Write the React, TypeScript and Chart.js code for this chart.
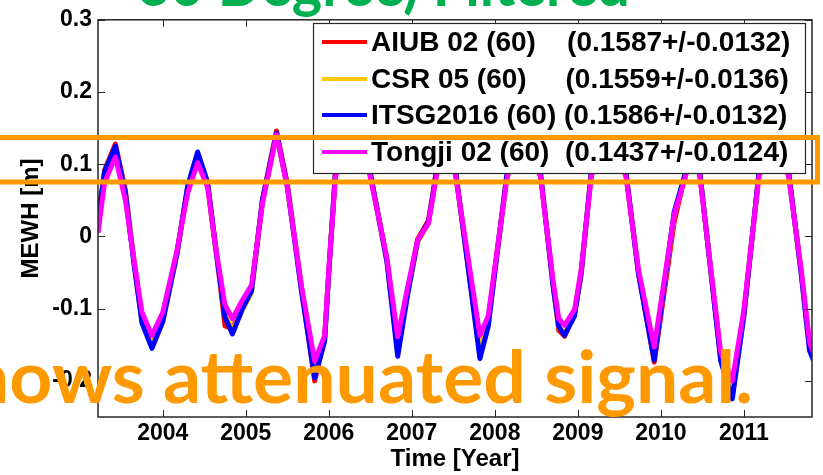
import React, { useEffect, useRef } from 'react';
import { Chart, registerables } from 'chart.js';

Chart.register(...registerables);

// Time (decimal years)
const timeYears = [
  2003.22, 2003.30, 2003.43, 2003.55, 2003.65, 2003.75, 2003.87, 2004.00, 2004.17, 2004.30,
  2004.42, 2004.54, 2004.63, 2004.75, 2004.84, 2004.96, 2005.07, 2005.20, 2005.37, 2005.50,
  2005.67, 2005.83, 2005.95, 2006.00, 2006.08, 2006.30, 2006.50, 2006.70, 2006.83, 2006.95,
  2007.07, 2007.20, 2007.26, 2007.32, 2007.42, 2007.53, 2007.82, 2007.92, 2008.14, 2008.30,
  2008.55, 2008.70, 2008.77, 2008.84, 2008.96, 2009.04, 2009.16, 2009.37, 2009.58, 2009.73,
  2009.92, 2010.16, 2010.28, 2010.40, 2010.47, 2010.72, 2010.86, 2011.00, 2011.18, 2011.36,
  2011.54, 2011.69, 2011.79, 2011.84,
];

// MEWH [m]
const aiub02 = [
  0.022, 0.092, 0.128, 0.064, -0.030, -0.116, -0.148, -0.115, -0.022, 0.068,
  0.113, 0.073, -0.006, -0.124, -0.128, -0.096, -0.072, 0.050, 0.146, 0.073,
  -0.070, -0.200, -0.140, -0.048, 0.088, 0.188, 0.086, -0.032, -0.160, -0.076,
  -0.004, 0.022, 0.064, 0.110, 0.168, 0.086, -0.162, -0.118, 0.080, 0.172,
  0.086, -0.064, -0.130, -0.138, -0.106, -0.052, 0.086, 0.178, 0.086, -0.050,
  -0.174, 0.020, 0.080, 0.142, 0.086, -0.168, -0.220, -0.106, 0.086, 0.172,
  0.086, -0.050, -0.152, -0.168,
];
const csr05 = [
  0.015, 0.085, 0.122, 0.058, -0.032, -0.118, -0.150, -0.120, -0.026, 0.066,
  0.110, 0.070, -0.012, -0.108, -0.130, -0.102, -0.078, 0.046, 0.140, 0.068,
  -0.072, -0.190, -0.142, -0.050, 0.086, 0.182, 0.085, -0.034, -0.160, -0.078,
  -0.008, 0.018, 0.060, 0.106, 0.165, 0.085, -0.160, -0.122, 0.078, 0.168,
  0.085, -0.066, -0.126, -0.134, -0.108, -0.048, 0.085, 0.172, 0.085, -0.050,
  -0.166, 0.030, 0.078, 0.138, 0.085, -0.166, -0.212, -0.108, 0.085, 0.168,
  0.085, -0.050, -0.154, -0.170,
];
const itsg2016 = [
  0.020, 0.090, 0.125, 0.060, -0.035, -0.120, -0.155, -0.118, -0.025, 0.070,
  0.117, 0.075, -0.010, -0.112, -0.135, -0.100, -0.075, 0.050, 0.143, 0.070,
  -0.075, -0.196, -0.145, -0.050, 0.090, 0.190, 0.088, -0.035, -0.166, -0.080,
  -0.006, 0.020, 0.062, 0.110, 0.170, 0.088, -0.169, -0.125, 0.082, 0.175,
  0.088, -0.068, -0.125, -0.137, -0.110, -0.050, 0.088, 0.180, 0.088, -0.052,
  -0.171, 0.034, 0.082, 0.145, 0.088, -0.172, -0.225, -0.110, 0.088, 0.175,
  0.088, -0.052, -0.158, -0.172,
];
const tongji02 = [
  0.005, 0.075, 0.110, 0.050, -0.030, -0.105, -0.137, -0.105, -0.020, 0.060,
  0.102, 0.068, -0.010, -0.095, -0.114, -0.088, -0.067, 0.045, 0.141, 0.068,
  -0.068, -0.173, -0.137, -0.046, 0.082, 0.170, 0.082, -0.030, -0.139, -0.070,
  -0.005, 0.018, 0.059, 0.100, 0.155, 0.082, -0.137, -0.110, 0.076, 0.160,
  0.082, -0.060, -0.114, -0.123, -0.101, -0.046, 0.082, 0.165, 0.082, -0.046,
  -0.153, 0.031, 0.076, 0.130, 0.082, -0.160, -0.200, -0.101, 0.082, 0.160,
  0.082, -0.046, -0.146, -0.162,
];

const seriesLabels = [
  'AIUB 02 (60)    (0.1587+/-0.0132)',
  'CSR 05 (60)     (0.1559+/-0.0136)',
  'ITSG2016 (60) (0.1586+/-0.0132)',
  'Tongji 02 (60)  (0.1437+/-0.0124)',
];
const seriesColors = ['#FF0000', '#FFC800', '#0000FF', '#FF00FF'];
const seriesValues = [aiub02, csr05, itsg2016, tongji02];

const xTickYears = [2004, 2005, 2006, 2007, 2008, 2009, 2010, 2011];
const yTickValues = [-0.2, -0.1, 0, 0.1, 0.2, 0.3];
const yTickLabels = ['-0.2', '-0.1', '0', '0.1', '0.2', '0.3'];
const xRange = [2003.22, 2011.82];
const yRange = [-0.25, 0.3];
const xTitle = 'Time [Year]';
const yTitle = 'MEWH [m]';
const slideTitle = '60 Degree) Filtered';
const slideCaption = 'shows attenuated signal.';
const slideCaptionFitPart = 'attenuated signal.';

const AXIS_FONT = '"Liberation Sans", Arial, sans-serif';

const decorPlugin = {
  id: 'decor',
  afterDatasetsDraw(chart: any) {
    const { ctx, chartArea: a, scales } = chart;
    const xs = scales.x;
    const ys = scales.y;
    ctx.save();
    // frame
    ctx.strokeStyle = '#262626';
    ctx.lineWidth = 1.5;
    ctx.strokeRect(a.left, a.top, a.right - a.left, a.bottom - a.top);
    // inward ticks
    const tl = 7;
    ctx.beginPath();
    xTickYears.forEach((v) => {
      const px = Math.round(xs.getPixelForValue(v)) + 0.5;
      ctx.moveTo(px, a.bottom);
      ctx.lineTo(px, a.bottom - tl);
      ctx.moveTo(px, a.top);
      ctx.lineTo(px, a.top + tl);
    });
    yTickValues.forEach((v) => {
      const py = Math.round(ys.getPixelForValue(v)) + 0.5;
      ctx.moveTo(a.left, py);
      ctx.lineTo(a.left + tl, py);
      ctx.moveTo(a.right, py);
      ctx.lineTo(a.right - tl, py);
    });
    ctx.lineWidth = 1;
    ctx.stroke();

    // legend box
    const lb = { left: 313, top: 23, right: 805, bottom: 173 };
    ctx.fillStyle = '#FFFFFF';
    ctx.fillRect(lb.left, lb.top, lb.right - lb.left, lb.bottom - lb.top);
    ctx.strokeStyle = '#262626';
    ctx.lineWidth = 1.2;
    ctx.strokeRect(lb.left + 0.5, lb.top + 0.5, lb.right - lb.left, lb.bottom - lb.top);
    const rowY = [42, 79, 115, 152];
    ctx.font = `bold 28px ${AXIS_FONT}`;
    ctx.textBaseline = 'middle';
    ctx.textAlign = 'left';
    chart.data.datasets.forEach((ds: any, i: number) => {
      const yy = rowY[i];
      ctx.strokeStyle = ds.borderColor;
      ctx.lineWidth = 4;
      ctx.beginPath();
      ctx.moveTo(322, yy);
      ctx.lineTo(367, yy);
      ctx.stroke();
      ctx.fillStyle = '#000000';
      ctx.fillText(ds.label, 371, yy + 1);
    });

    // slide overlays: orange caption
    ctx.fillStyle = '#FF9900';
    ctx.font = 'bold 72px Lato, "Open Sans", sans-serif';
    ctx.textBaseline = 'alphabetic';
    const wFull = ctx.measureText(slideCaption).width;
    const wPart = ctx.measureText(slideCaptionFitPart).width;
    const sx = 590 / wPart;
    ctx.save();
    ctx.translate(753 - wFull * sx, 403);
    ctx.scale(sx, 1);
    ctx.fillText(slideCaption, 0, 0);
    ctx.restore();

    // orange highlight rectangle
    ctx.strokeStyle = '#FF9900';
    ctx.lineWidth = 5;
    ctx.strokeRect(-10, 137.5, 827.5, 44.5);

    // green title (mostly above the page)
    ctx.fillStyle = '#00B050';
    ctx.font = 'bold 62px Lato, "Open Sans", sans-serif';
    const wt = ctx.measureText(slideTitle).width;
    const st = 493 / wt;
    ctx.save();
    ctx.translate(137, 6);
    ctx.scale(st, 1);
    ctx.fillText(slideTitle, 0, 0);
    ctx.restore();

    ctx.restore();
  },
};

export default function App() {
  const ref = useRef<HTMLCanvasElement | null>(null);
  useEffect(() => {
    document.body.style.margin = '0';
    document.body.style.overflow = 'hidden';
    const canvas = ref.current;
    if (!canvas) return;
    const datasets = seriesValues.map((vals, i) => ({
      label: seriesLabels[i],
      data: timeYears.map((t, k) => ({ x: t, y: vals[k] })),
      borderColor: seriesColors[i],
      backgroundColor: seriesColors[i],
      borderWidth: 5,
      borderJoinStyle: 'round',
      pointRadius: 0,
      tension: 0,
      fill: false,
      order: 3 - i,
    }));
    const chart = new Chart(canvas, {
      type: 'line',
      data: { datasets },
      options: {
        animation: false,
        responsive: false,
        devicePixelRatio: 1,
        layout: { padding: { top: 15, right: 11, left: 0, bottom: 0 } },
        plugins: { legend: { display: false }, tooltip: { enabled: false } },
        scales: {
          x: {
            type: 'linear',
            min: xRange[0],
            max: xRange[1],
            grid: { display: false, drawTicks: false },
            border: { display: false },
            afterBuildTicks: (s: any) => {
              s.ticks = xTickYears.map((v) => ({ value: v }));
            },
            afterFit: (s: any) => {
              s.height = 58;
            },
            ticks: {
              autoSkip: false,
              maxRotation: 0,
              padding: 3,
              color: '#000',
              font: { family: AXIS_FONT, size: 23, weight: 'bold' },
              callback: (v: any) => String(v),
            },
            title: {
              display: true,
              text: xTitle,
              color: '#000',
              font: { family: AXIS_FONT, size: 24, weight: 'bold' },
              padding: { top: 0, bottom: 1 },
            },
          },
          y: {
            type: 'linear',
            min: yRange[0],
            max: yRange[1],
            grid: { display: false, drawTicks: false },
            border: { display: false },
            afterBuildTicks: (s: any) => {
              s.ticks = yTickValues.map((v) => ({ value: v }));
            },
            afterFit: (s: any) => {
              s.width = 98;
            },
            ticks: {
              autoSkip: false,
              padding: 6,
              color: '#000',
              font: { family: AXIS_FONT, size: 23, weight: 'bold' },
              callback: (v: any) => {
                const idx = yTickValues.findIndex((t) => Math.abs(t - Number(v)) < 1e-9);
                return idx >= 0 ? yTickLabels[idx] : '';
              },
            },
            title: {
              display: true,
              text: yTitle,
              color: '#000',
              font: { family: AXIS_FONT, size: 24, weight: 'bold' },
              padding: { top: 17, bottom: 0 },
            },
          },
        },
      },
      plugins: [decorPlugin],
    } as any);
    return () => chart.destroy();
  }, []);
  return <canvas ref={ref} width={823} height={475} style={{ display: 'block' }} />;
}
